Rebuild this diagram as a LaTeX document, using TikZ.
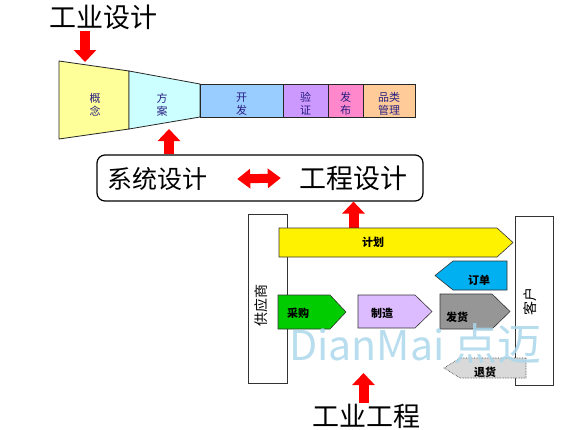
\documentclass[tikz,border=0pt]{standalone}
\usepackage{fontspec}
\setmainfont{Noto Sans CJK SC}
\usetikzlibrary{calc,arrows.meta,positioning}

\definecolor{funyellow}{RGB}{255,255,153}
\definecolor{funcyan}{RGB}{204,255,255}
\definecolor{funblue}{RGB}{153,204,255}
\definecolor{funpurple}{RGB}{204,153,255}
\definecolor{funpink}{RGB}{255,136,204}
\definecolor{funorange}{RGB}{255,204,153}
\definecolor{funtext}{RGB}{40,30,130}
\definecolor{buygreen}{RGB}{0,204,0}
\definecolor{makelilac}{RGB}{221,187,255}
\definecolor{shipgray}{RGB}{150,150,150}
\definecolor{orderblue}{RGB}{0,176,240}
\definecolor{retgray}{RGB}{217,217,217}
\definecolor{markblue}{RGB}{170,215,235}

\tikzset{
  redarrow/.style={draw=red, line width=10pt, -{Triangle[width=22pt,length=12pt]}},
  twoway/.style={draw=red, line width=9pt, {Triangle[width=19pt,length=13pt]}-{Triangle[width=19pt,length=13pt]}},
  stage/.style={draw=black!85, line width=0.8pt},
  stagetext/.style={text=funtext, font=\fontsize{11}{13}\selectfont, align=center},
  bigtext/.style={font=\fontsize{#1}{#1}\selectfont, inner sep=1pt},
  bigtext/.default=26,
  flow/.style={draw=black!80, line width=0.6pt},
  flowtext/.style={font=\bfseries\fontsize{11}{11}\selectfont, inner sep=0pt},
  party/.style={draw=black!80, line width=0.8pt, fill=white},
}

\begin{document}
\begin{tikzpicture}[x=1pt, y=-1pt]
        \useasboundingbox (0,0) rectangle (583,429);

        \coordinate (A) at (59,61);
        \coordinate (B) at (59,139);
        \coordinate (C) at (129,71);
        \coordinate (D) at (129,129);
        \coordinate (E) at (200,84);
        \coordinate (F) at (200,117);

        \draw[stage, fill=funyellow] (A) -- (C) -- (D) -- (B) -- cycle;
        \draw[stage, fill=funcyan] (C) -- (E) -- (F) -- (D) -- cycle;
        \node[stagetext] (concept) at (95,105) {概\\念};
        \node[stagetext] (scheme) at (162,105) {方\\案};

        \foreach \n/\a/\b/\c/\t in
        {dev/200/283/funblue/开\\发,
         test/283/328/funpurple/验\\证,
         launch/328/363/funpink/发\\布,
         range/363/415/funorange/品类\\管理}
        {
            \draw[stage, fill=\c] (\a,84) rectangle (\b,117);
            \node[stagetext] (\n) at ({(\a+\b)/2},104) {\t};
        };

        \node[bigtext=27] (ind) at (103,17) {工业设计};
        \coordinate (indtip) at (85,62);
        \draw[redarrow] (ind.south -| indtip) -- (indtip);

        \node[draw, line width=1.2pt, rounded corners=8pt, minimum width=326pt, minimum height=46pt] (sys) at (260,178) {};
        \node[bigtext=25] (sysl) at (157,179) {系统设计};
        \node[bigtext=27] (sysr) at (353,178) {工程设计};
        \draw[twoway] ([xshift=29pt]sysl.east) -- ([xshift=-17pt]sysr.west);

        \coordinate (schemetip) at (169,129);
        \draw[redarrow] (sys.north -| schemetip) -- (schemetip);

        \coordinate (plantop) at (353.5,228);
        \draw[redarrow] (plantop) -- (plantop |- sys.south);

        \draw[party] (248,214) rectangle (287,383);
        \draw[party] (515,216) rectangle (553,385);
        \node[rotate=90, font=\fontsize{14}{14}\selectfont] (sup) at (261,305) {供应商};
        \node[rotate=90, font=\fontsize{14}{14}\selectfont] (cust) at (530,301) {客户};

        \foreach \n/\a/\b/\c/\ya/\yb/\col/\t/\tx/\ty/\lin in
        {plan/279/497/513/228/257/yellow/计划/373/242/solid,
         buy/278/330/346/295/329/buygreen/采购/298/313/solid,
         make/358/415/432/295/328/makelilac/制造/382/313/solid,
         ship/440/492/510/294/329/shipgray/发货/457/317/solid,
         order/507/453/435/261/290/orderblue/订单/479/280/solid,
         ret/526/460/444/358/378/retgray/退货/485/372/densely dotted}
        {
            \draw[flow, \lin, fill=\col] (\a,\ya) -- (\b,\ya) -- (\c,{(\ya+\yb)/2}) -- (\b,\yb) -- (\a,\yb) -- cycle;
            \node[flowtext] (\n) at (\tx,\ty) {\t};
        };

        \node[bigtext=27] (eng) at (366,416) {工业工程};
        \coordinate (engtip) at (363.5,373);
        \draw[redarrow] (eng.north -| engtip) -- (engtip);

        \node[anchor=base west, text=markblue, opacity=0.85, font=\fontsize{41}{41}\selectfont, inner sep=0pt] (mark) at (289,360) {DianMai {\fontsize{44}{44}\selectfont 点迈}};
    \end{tikzpicture}
\end{document}
